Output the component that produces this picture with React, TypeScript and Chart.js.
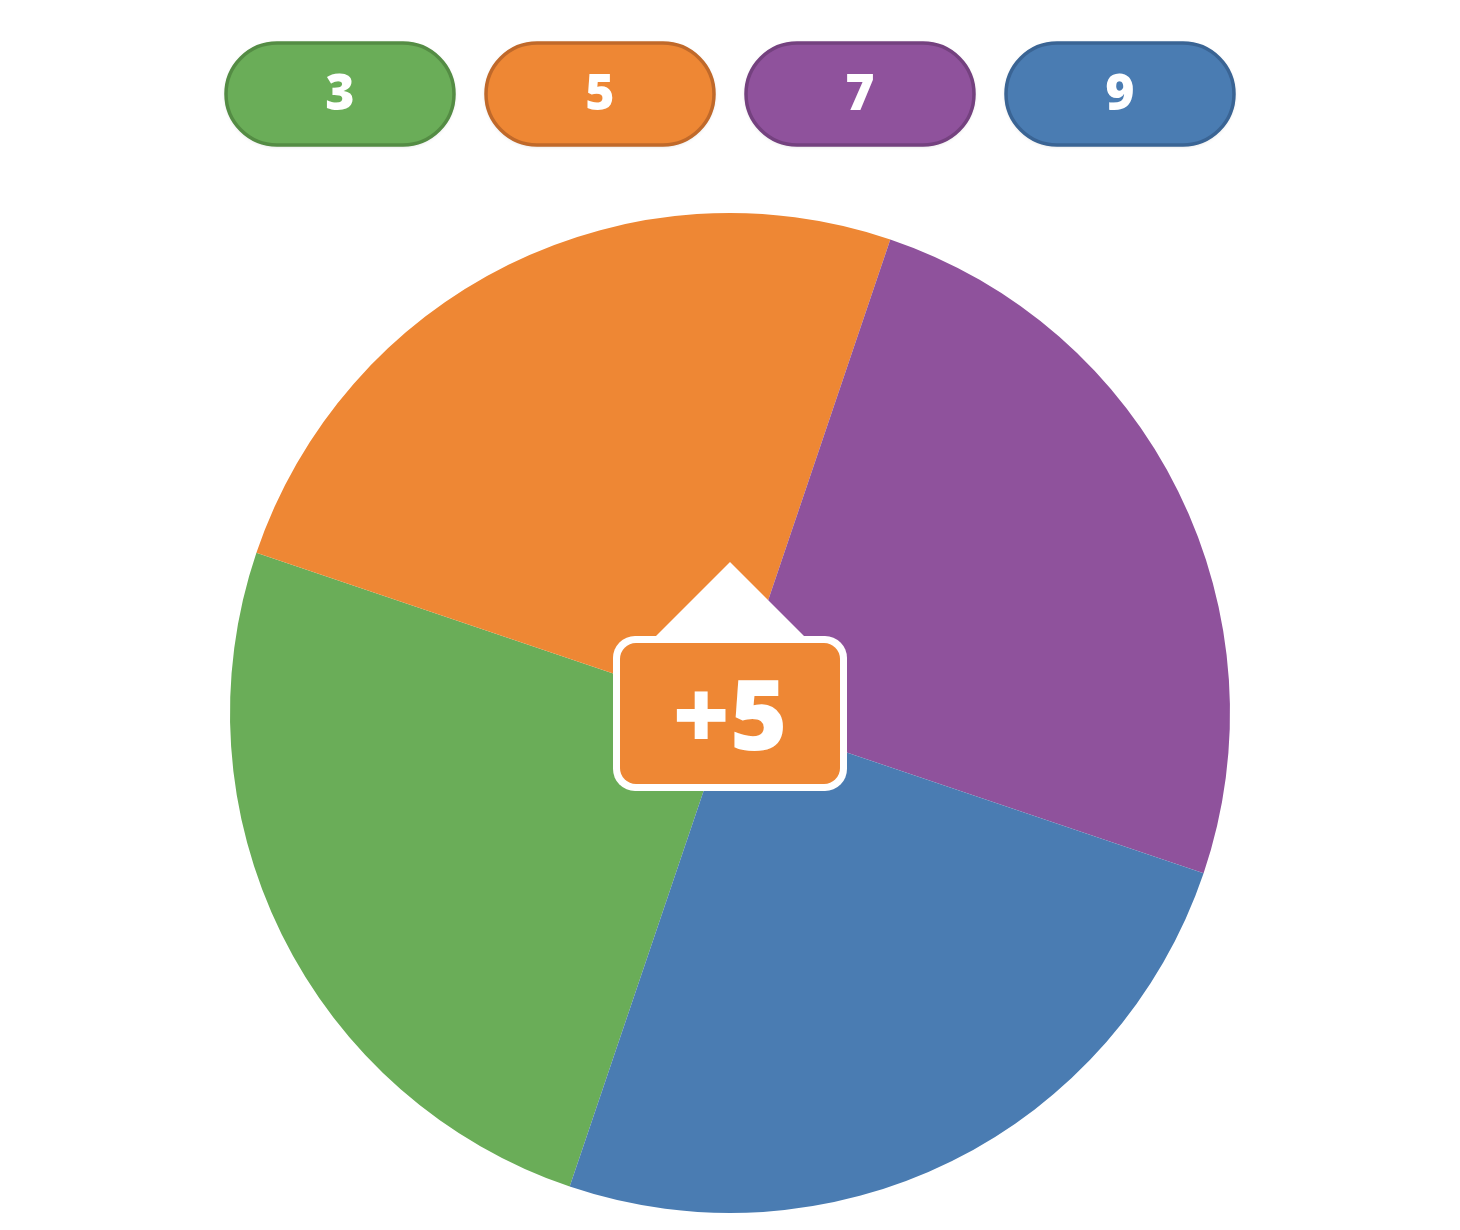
import React, { useEffect, useRef } from "react";
import { Chart, registerables } from "chart.js";

Chart.register(...registerables);

const categories = ["3", "5", "7", "9"];
const sliceWeights = [1, 1, 1, 1];
const sliceColors = ["#6aad58", "#ee8734", "#8f529c", "#4a7cb2"];
const pillBorderColors = ["#548c44", "#c0692a", "#74417f", "#3a6494"];
const selectedIndex = 1;
const selectedLabel = "+5";
const wheelRotation = 198.7;

const FONT = "'Open Sans', 'Noto Sans', sans-serif";

function roundRect(ctx: CanvasRenderingContext2D, x: number, y: number, w: number, h: number, r: number) {
  ctx.beginPath();
  ctx.moveTo(x + r, y);
  ctx.lineTo(x + w - r, y);
  ctx.arcTo(x + w, y, x + w, y + r, r);
  ctx.lineTo(x + w, y + h - r);
  ctx.arcTo(x + w, y + h, x + w - r, y + h, r);
  ctx.lineTo(x + r, y + h);
  ctx.arcTo(x, y + h, x, y + h - r, r);
  ctx.lineTo(x, y + r);
  ctx.arcTo(x, y, x + r, y, r);
  ctx.closePath();
}

const overlayPlugin = {
  id: "wheelOverlay",
  afterDraw(chart: any) {
    const ctx: CanvasRenderingContext2D = chart.ctx;
    const arc = chart.getDatasetMeta(0).data[0];
    const cx = arc.x;
    const cy = arc.y;
    const area = chart.chartArea;
    const midX = (area.left + area.right) / 2;

    // legend pills
    ctx.save();
    const pw = 228, ph = 102, gap = 260, py = 35;
    categories.forEach((c, i) => {
      const x = midX + (i - (categories.length - 1) / 2) * gap - pw / 2;
      ctx.save();
      ctx.shadowColor = "rgba(0,0,0,0.18)";
      ctx.shadowBlur = 4;
      ctx.shadowOffsetY = 1;
      roundRect(ctx, x, py, pw, ph, ph / 2);
      ctx.fillStyle = sliceColors[i];
      ctx.fill();
      ctx.restore();
      roundRect(ctx, x, py, pw, ph, ph / 2);
      ctx.lineWidth = 3.5;
      ctx.strokeStyle = pillBorderColors[i];
      ctx.stroke();
      ctx.fillStyle = "#ffffff";
      ctx.font = `800 50px ${FONT}`;
      ctx.textAlign = "center";
      ctx.textBaseline = "middle";
      ctx.fillText(c, x + pw / 2, py + ph / 2 + 2);
    });
    ctx.restore();

    // pointer
    ctx.save();
    ctx.fillStyle = "#ffffff";
    ctx.beginPath();
    ctx.moveTo(cx, cy - 151);
    ctx.lineTo(cx + 76, cy - 75);
    ctx.lineTo(cx - 76, cy - 75);
    ctx.closePath();
    ctx.fill();
    const bx = cx - 117, by = cy - 77, bw = 234, bh = 155;
    roundRect(ctx, bx, by, bw, bh, 22);
    ctx.fillStyle = "#ffffff";
    ctx.fill();
    roundRect(ctx, bx + 7, by + 7, bw - 14, bh - 14, 16);
    ctx.fillStyle = sliceColors[selectedIndex];
    ctx.fill();
    ctx.fillStyle = "#ffffff";
    ctx.font = `800 98px ${FONT}`;
    ctx.textAlign = "center";
    ctx.textBaseline = "middle";
    ctx.fillText(selectedLabel, cx, cy + 9);
    ctx.restore();
  },
};

export default function App() {
  const ref = useRef<HTMLCanvasElement>(null);
  useEffect(() => {
    if (!ref.current) return;
    const chart = new Chart(ref.current, {
      type: "pie",
      data: {
        labels: categories,
        datasets: [
          {
            data: sliceWeights,
            backgroundColor: sliceColors,
            borderWidth: 0,
          },
        ],
      },
      options: {
        responsive: false,
        animation: false,
        rotation: wheelRotation,
        layout: { padding: { top: 205, bottom: 9, left: 0, right: 0 } },
        plugins: {
          legend: { display: false },
          tooltip: { enabled: false },
        },
        events: [],
      },
      plugins: [overlayPlugin],
    });
    return () => chart.destroy();
  }, []);
  return (
    <div style={{ width: 1444, height: 1214 }}>
      <canvas ref={ref} width={1444} height={1214} style={{ display: "block" }} />
    </div>
  );
}
